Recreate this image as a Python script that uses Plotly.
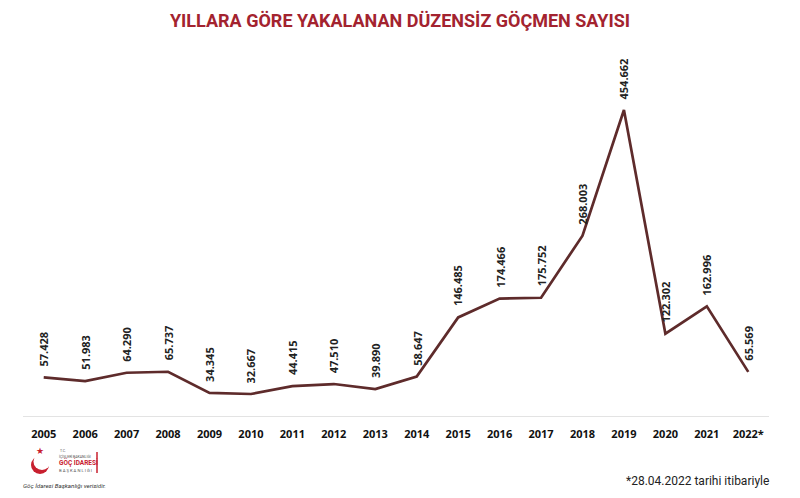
import plotly.graph_objects as go

years = ["2005", "2006", "2007", "2008", "2009", "2010", "2011", "2012", "2013",
         "2014", "2015", "2016", "2017", "2018", "2019", "2020", "2021", "2022*"]
values = [57428, 51983, 64290, 65737, 34345, 32667, 44415, 47510, 39890,
          58647, 146485, 174466, 175752, 268003, 454662, 122302, 162996, 65569]
title_text = "YILLARA GÖRE YAKALANAN DÜZENSİZ GÖÇMEN SAYISI"
footnote = "*28.04.2022 tarihi itibariyle"
source = "Göç İdaresi Başkanlığı verisidir."

def fmt(v):
    return f"{v:,}".replace(",", ".")

# figure geometry (page has an 8px body margin)
W, H = 792, 490
L, R, T, B = 15, 31, 37, 82
PW, PH = W - L - R, H - T - B

def px(x):
    return (x - 8 - L) / PW

def py(y):
    return (H - B - (y - 8)) / PH

xs = list(range(len(years)))

fig = go.Figure()
fig.add_trace(go.Scatter(x=xs, y=values, mode="lines",
                         line=dict(color="#5e2b2b", width=2.7),
                         hoverinfo="skip", showlegend=False))

for x, v in zip(xs, values):
    fig.add_annotation(x=x, y=v, text="<b>" + fmt(v) + "</b>", textangle=-90,
                       showarrow=False, xanchor="center", yanchor="bottom", yshift=9,
                       font=dict(family="Open Sans, DejaVu Sans", size=11, color="#222222"))

fig.update_layout(
    width=W, height=H,
    margin=dict(l=L, r=R, t=T, b=B),
    paper_bgcolor="white", plot_bgcolor="white",
    title=dict(text="<b>" + title_text + "</b>", x=392 / W, xanchor="center",
               y=1 - 13 / H, yanchor="middle",
               font=dict(family="Roboto", size=18, color="#a3232f")),
    xaxis=dict(range=[-0.5, len(years) - 0.5], tickmode="array", tickvals=xs,
               ticktext=["<b>" + y + "</b>" for y in years],
               showgrid=False, zeroline=False, showline=False, ticks="",
               ticklabelstandoff=10,
               tickfont=dict(family="Open Sans, DejaVu Sans", size=11, color="#111111")),
    yaxis=dict(range=[0, 551300], showgrid=False, zeroline=True, zerolinecolor="#e3e3e3",
               zerolinewidth=1, showticklabels=False, showline=False, ticks=""),
)

fig.add_annotation(xref="paper", yref="paper", x=px(771), y=py(481), xanchor="right",
                   yanchor="middle", text=footnote, showarrow=False,
                   font=dict(family="Roboto", size=12, color="#222222"))

# logo approximation
red = "#c8202f"
fig.add_shape(type="circle", xref="paper", yref="paper", layer="above",
              x0=px(31), x1=px(49), y0=py(474), y1=py(456), fillcolor=red, line_width=0)
fig.add_shape(type="circle", xref="paper", yref="paper", layer="above",
              x0=px(33.5), x1=px(50.5), y0=py(470), y1=py(453), fillcolor="white", line_width=0)
fig.add_annotation(xref="paper", yref="paper", x=px(34), y=py(459), text="★", showarrow=False,
                   font=dict(size=9, color=red))
fig.add_annotation(xref="paper", yref="paper", x=px(58), y=py(451), text="T.C.",
                   showarrow=False, xanchor="left", yanchor="middle",
                   font=dict(family="Roboto", size=3.5, color="#555555"))
fig.add_annotation(xref="paper", yref="paper", x=px(57), y=py(456), text="İÇİŞLERİ BAKANLIĞI",
                   showarrow=False, xanchor="left", yanchor="middle",
                   font=dict(family="Roboto", size=3.5, color="#555555"))
fig.add_annotation(xref="paper", yref="paper", x=px(57), y=py(463), text="<b>GÖÇ İDARESİ</b>",
                   showarrow=False, xanchor="left", yanchor="middle",
                   font=dict(family="Roboto", size=6.5, color=red))
fig.add_annotation(xref="paper", yref="paper", x=px(57), y=py(470), text="B A Ş K A N L I Ğ I",
                   showarrow=False, xanchor="left", yanchor="middle",
                   font=dict(family="Roboto", size=4.2, color="#555555"))
fig.add_shape(type="line", xref="paper", yref="paper", x0=px(97), x1=px(97),
              y0=py(473), y1=py(452), line=dict(color=red, width=1.5))
fig.add_annotation(xref="paper", yref="paper", x=px(21), y=py(486), text="<i>" + source + "</i>",
                   showarrow=False, xanchor="left", yanchor="middle",
                   font=dict(family="Roboto", size=6.2, color="#333333"))

fig.write_html("out.html")
